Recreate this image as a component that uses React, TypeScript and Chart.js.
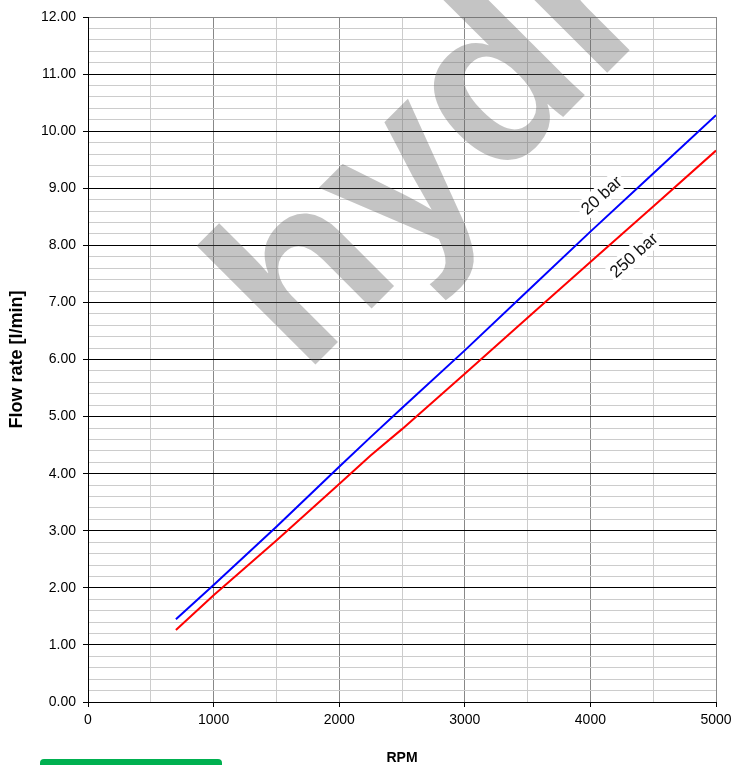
import React, { useEffect, useRef } from 'react';
import { Chart, registerables } from 'chart.js';

Chart.register(...registerables);

const FONT = "'Liberation Sans', Arial, sans-serif";

// Data
const rpm = [700, 1000, 1500, 2000, 2250, 2500, 3000, 3500, 4000, 4500, 5000];
const flow20bar = [1.45, 2.05, 3.07, 4.12, 4.64, 5.15, 6.16, 7.2, 8.24, 9.26, 10.28];
const flow250bar = [1.26, 1.87, 2.83, 3.82, 4.32, 4.78, 5.75, 6.73, 7.71, 8.68, 9.66];
const seriesNames = ['20 bar', '250 bar'];
const seriesColors = ['#0000ff', '#ff0000'];
const labelRpm = [4087, 4344];
const labelFlow = [8.88, 7.83];
const xTitle = 'RPM';
const yTitle = 'Flow rate [l/min]';
const watermark = 'hydr';

const isInt = (v: number) => Math.abs(v - Math.round(v)) < 1e-6;

const decorPlugin = {
  id: 'decor',
  beforeDatasetsDraw(chart: any) {
    const ctx = chart.ctx;
    ctx.save();
    ctx.translate(304, 376);
    ctx.rotate(-Math.PI / 4);
    ctx.font = `bold 232px ${FONT}`;
    ctx.fillStyle = 'rgba(100,100,100,0.38)';
    ctx.textAlign = 'left';
    ctx.textBaseline = 'alphabetic';
    ctx.fillText(watermark, 0, 0);
    ctx.restore();
  },
  afterDatasetsDraw(chart: any) {
    const ctx = chart.ctx;
    const xs = chart.scales.x;
    const ys = chart.scales.y;
    seriesNames.forEach((name, i) => {
      const px = xs.getPixelForValue(labelRpm[i]);
      const py = ys.getPixelForValue(labelFlow[i]);
      ctx.save();
      ctx.translate(px, py);
      ctx.rotate((-42 * Math.PI) / 180);
      ctx.font = `17px ${FONT}`;
      const w = ctx.measureText(name).width;
      ctx.fillStyle = '#ffffff';
      ctx.beginPath();
      ctx.roundRect(-w / 2 - 3, -10, w + 6, 20, 5);
      ctx.fill();
      ctx.fillStyle = '#111111';
      ctx.textAlign = 'center';
      ctx.textBaseline = 'middle';
      ctx.fillText(name, 0, 1);
      ctx.restore();
    });
  },
  afterDraw(chart: any) {
    const ctx = chart.ctx;
    ctx.save();
    ctx.fillStyle = '#00b050';
    ctx.beginPath();
    ctx.roundRect(40, 759, 182, 12, 4);
    ctx.fill();
    ctx.restore();
  },
};

export default function App() {
  const ref = useRef<HTMLCanvasElement | null>(null);

  useEffect(() => {
    if (!ref.current) return;
    const chart = new Chart(ref.current, {
      type: 'line',
      data: {
        datasets: [
          {
            label: seriesNames[0],
            data: rpm.map((x, i) => ({ x, y: flow20bar[i] })),
            borderColor: seriesColors[0],
            backgroundColor: seriesColors[0],
            borderWidth: 2,
            pointRadius: 0,
            tension: 0,
            fill: false,
          },
          {
            label: seriesNames[1],
            data: rpm.map((x, i) => ({ x, y: flow250bar[i] })),
            borderColor: seriesColors[1],
            backgroundColor: seriesColors[1],
            borderWidth: 2,
            pointRadius: 0,
            tension: 0,
            fill: false,
          },
        ],
      },
      options: {
        responsive: false,
        animation: false,
        devicePixelRatio: 1,
        layout: { padding: { left: 0, top: 17, right: 17, bottom: 0 } },
        plugins: {
          legend: { display: false },
          tooltip: { enabled: false },
        },
        scales: {
          x: {
            type: 'linear',
            min: 0,
            max: 5000,
            afterFit: (s: any) => {
              s.height = 63;
              s.paddingLeft = 0;
              s.paddingRight = 0;
            },
            ticks: {
              stepSize: 500,
              autoSkip: false,
              maxRotation: 0,
              padding: 5,
              color: '#000',
              font: { family: FONT, size: 14 },
              callback: (v: any) => (Number(v) % 1000 === 0 ? String(v) : ''),
            },
            grid: {
              color: (c: any) => (c.tick && c.tick.value % 1000 === 0 ? '#888888' : '#cccccc'),
              tickColor: (c: any) => (c.tick && c.tick.value % 1000 === 0 ? '#000000' : 'rgba(0,0,0,0)'),
              tickLength: 5,
              lineWidth: 1,
            },
            border: { color: '#000', width: 1 },
            title: {
              display: true,
              text: xTitle,
              color: '#000',
              font: { family: FONT, size: 14, weight: 'bold' },
              padding: { top: 0, bottom: -2 },
            },
          },
          y: {
            type: 'linear',
            min: 0,
            max: 12,
            afterFit: (s: any) => {
              s.width = 88;
              s.paddingTop = 0;
              s.paddingBottom = 0;
            },
            ticks: {
              stepSize: 0.2,
              autoSkip: false,
              padding: 7,
              color: '#000',
              font: { family: FONT, size: 14 },
              callback: (v: any) => (isInt(Number(v)) ? Number(v).toFixed(2) : ''),
            },
            grid: {
              color: (c: any) => {
                const v = c.tick ? c.tick.value : 0;
                if (isInt(v)) return Math.round(v) === 12 ? '#888888' : '#000000';
                return '#cccccc';
              },
              tickColor: (c: any) => (c.tick && isInt(c.tick.value) ? '#000000' : 'rgba(0,0,0,0)'),
              tickLength: 5,
              lineWidth: 1,
            },
            border: { color: '#000', width: 1 },
            title: {
              display: true,
              text: yTitle,
              color: '#000',
              font: { family: FONT, size: 18, weight: 'bold' },
              padding: { top: 6, bottom: 0 },
            },
          },
        },
      },
      plugins: [decorPlugin],
    } as any);
    return () => chart.destroy();
  }, []);

  return (
    <div style={{ position: 'fixed', left: 0, top: 0, width: 733, height: 765, background: '#fff' }}>
      <canvas ref={ref} width={733} height={765} style={{ display: 'block' }} />
    </div>
  );
}
